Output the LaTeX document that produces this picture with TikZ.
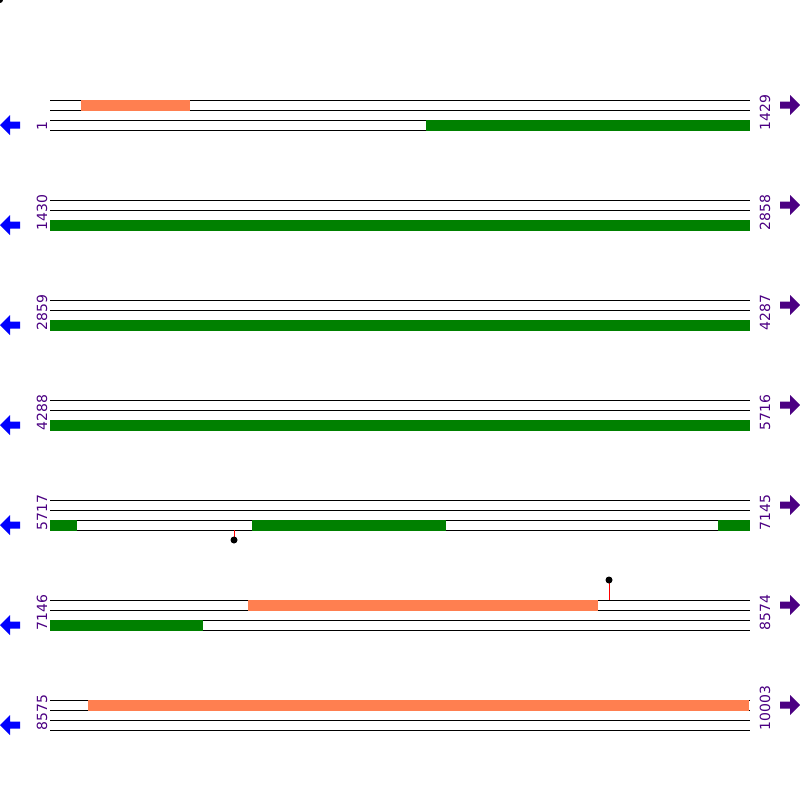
\documentclass[tikz,border=0pt]{standalone}
\usepackage{fontspec}
\setmainfont{DejaVu Sans}
\usetikzlibrary{positioning}
\definecolor{trackgreen}{HTML}{008000}
\definecolor{codingorange}{HTML}{FF7F50}
\definecolor{arrowblue}{HTML}{0000FF}
\definecolor{posviolet}{HTML}{4B0082}
\tikzset{
  seqline/.style={draw=black,line width=1pt},
  poslabel/.style={rotate=90,anchor=base west,inner sep=0pt,
                   text=posviolet,font=\fontsize{14}{14}\selectfont},
  leftarrow/.style={fill=arrowblue},
  rightarrow/.style={fill=posviolet},
  stemline/.style={draw=red,line width=1pt},
  stemdot/.style={fill=black}
}

\begin{document}
\begin{tikzpicture}[x=1pt,y=-1pt]
  \useasboundingbox (0,0) rectangle (800,800);
  \fill[stemdot] (0,0) circle (3);
  % rows of the map
  \foreach \r/\from/\upto in {0/1/1429,1/1430/2858,2/2859/4287,3/4288/5716,
                              4/5717/7145,5/7146/8574,6/8575/10003} {
    \begin{scope}[shift={(0,100+100*\r)}]
      \foreach \dy in {0,10,20,30}
        \draw[seqline] (50,\dy) -- (750,\dy);
      \node[poslabel] (from-\r) at (47,30.5) {\from};
      \node[poslabel] (upto-\r) at (770,30.5) {\upto};
      \fill[leftarrow] (0,25) -- (10,15) -- (10,21.5) -- (20,21.5)
        -- (20,28.5) -- (10,28.5) -- (10,35) -- cycle;
      \fill[rightarrow] (800,5) -- (790,-5) -- (790,1.5) -- (780,1.5)
        -- (780,8.5) -- (790,8.5) -- (790,15) -- cycle;
    \end{scope}
  }
  % features: row/track offset/start/end/colour
  \foreach \r/\dy/\xa/\xb/\kind in {0/0/81/190/codingorange,0/20/426/750/trackgreen,
      1/20/50/750/trackgreen,2/20/50/750/trackgreen,3/20/50/750/trackgreen,
      4/20/50/77/trackgreen,4/20/252/446/trackgreen,4/20/718/750/trackgreen,
      5/0/248/598/codingorange,5/20/50/203/trackgreen,
      6/0/88/749/codingorange}
    \fill[fill=\kind] (\xa,100+100*\r+\dy-0.5) rectangle (\xb,110.5+100*\r+\dy);
  % sites
  \draw[stemline] (234,530) -- (234,540);
  \fill[stemdot] (234,540) circle (3.5);
  \draw[stemline] (609,600) -- (609,580);
  \fill[stemdot] (609,580) circle (3.5);
\end{tikzpicture}
\end{document}
